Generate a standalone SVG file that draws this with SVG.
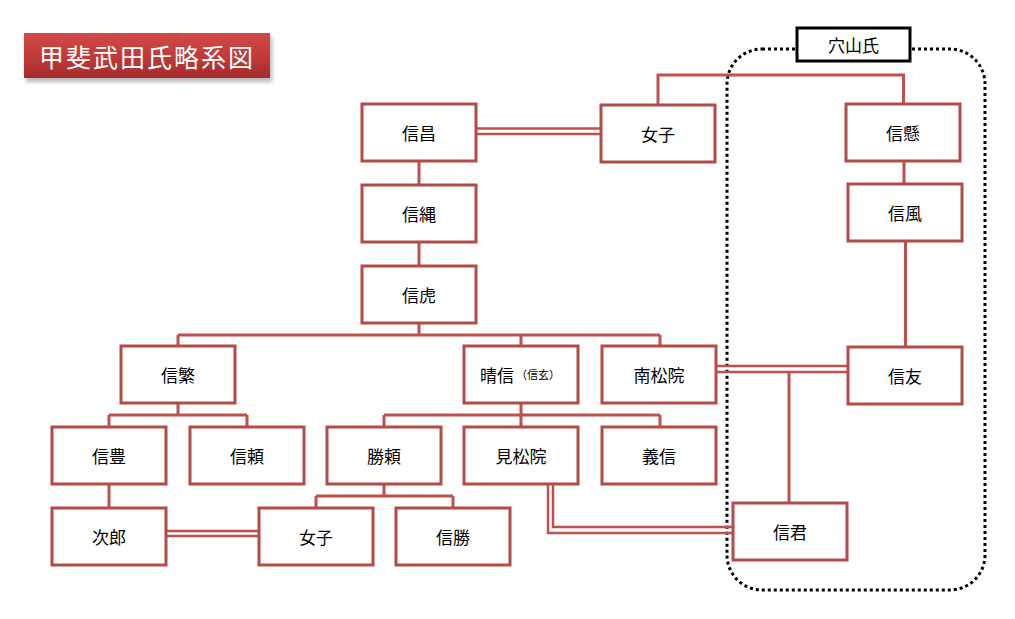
<svg xmlns="http://www.w3.org/2000/svg" width="1015" height="619" viewBox="0 0 1015 619">
<defs>
<linearGradient id="tg" x1="0" y1="0" x2="0" y2="1">
<stop offset="0" stop-color="#d24a47"/>
<stop offset="0.5" stop-color="#c23b39"/>
<stop offset="1" stop-color="#a32b2a"/>
</linearGradient>
<filter id="sh" x="-10%" y="-20%" width="120%" height="160%">
<feGaussianBlur stdDeviation="2"/>
</filter>
<style>
.box{fill:#fff;stroke:#b34b48;stroke-width:3}
.lbl{font-family:"Noto Sans CJK JP","Noto Sans CJK SC",sans-serif;font-size:17px;fill:#000;text-anchor:middle;dominant-baseline:central}
.ln{fill:none;stroke:#be504d;stroke-width:3}
.dl{fill:none;stroke:#be504d;stroke-width:2.5}
.dot{fill:none;stroke:#000;stroke-width:3;stroke-dasharray:3 3}
</style>
</defs>
<rect width="1015" height="619" fill="#fff"/>

<g id="title">
<rect x="26" y="37" width="246" height="45" fill="#888" opacity="0.6" filter="url(#sh)"/>
<rect x="24" y="33" width="246" height="45" fill="url(#tg)"/>
<text x="147" y="56" font-family="'Noto Sans CJK JP','Noto Sans CJK SC',sans-serif" font-size="25" fill="#fff" text-anchor="middle" dominant-baseline="central" letter-spacing="2">甲斐武田氏略系図</text>
</g>

<g id="anayama-boundary">
<rect x="727" y="49" width="258" height="541" rx="35" ry="35" class="dot"/>
</g>

<g id="connectors">
<path class="dl" d="M476 128.5H601M476 134H601"/>
<path class="ln" d="M658 105V75H903.5V104"/>
<path class="ln" d="M419 161V185M419 242V266"/>
<path class="ln" d="M419 323V335M178 335H660M178 335V346M521 335V346M660 335V346"/>
<path class="ln" d="M904 161V184"/>
<path class="ln" d="M905.5 241V347"/>
<path class="dl" d="M716 366H848M716 372H848"/>
<path class="ln" d="M789 372V503"/>
<path class="ln" d="M178 403V415M109 415H247M109 415V427M247 415V427"/>
<path class="ln" d="M521 403V415M384 415H660M384 415V427M521 415V427M660 415V427"/>
<path class="ln" d="M109 484V508"/>
<path class="ln" d="M384 484V496M316 496H453M316 496V508M453 496V508"/>
<path class="dl" d="M166 531H259M166 536H259"/>
<path class="dl" d="M548 484V533H733M553 484V527H733"/>
</g>

<g id="anayama-label">
<rect x="797" y="28" width="113" height="33" fill="#fff" stroke="#000" stroke-width="3"/>
<text x="853.5" y="44" class="lbl">穴山氏</text>
</g>

<g id="n-nobumasa"><rect class="box" x="362" y="104" width="114" height="57"/><text class="lbl" x="419" y="132">信昌</text></g>
<g id="n-joshi1"><rect class="box" x="601" y="105" width="114" height="57"/><text class="lbl" x="658" y="133">女子</text></g>
<g id="n-nobukake"><rect class="box" x="846" y="104" width="114" height="57"/><text class="lbl" x="903" y="132">信懸</text></g>
<g id="n-nobutsuna"><rect class="box" x="362" y="185" width="114" height="57"/><text class="lbl" x="419" y="213">信縄</text></g>
<g id="n-nobukaze"><rect class="box" x="848" y="184" width="114" height="57"/><text class="lbl" x="905" y="212">信風</text></g>
<g id="n-nobutora"><rect class="box" x="362" y="266" width="114" height="57"/><text class="lbl" x="419" y="294">信虎</text></g>
<g id="n-nobushige"><rect class="box" x="121" y="346" width="114" height="57"/><text class="lbl" x="178" y="374">信繁</text></g>
<g id="n-harunobu"><rect class="box" x="464" y="346" width="114" height="57"/><text class="lbl" x="480" y="374" style="text-anchor:start">晴信<tspan font-size="11" dx="2">（信玄）</tspan></text></g>
<g id="n-nanshoin"><rect class="box" x="602" y="346" width="114" height="57"/><text class="lbl" x="659" y="374">南松院</text></g>
<g id="n-nobutomo"><rect class="box" x="848" y="347" width="114" height="57"/><text class="lbl" x="905" y="375">信友</text></g>
<g id="n-nobutoyo"><rect class="box" x="52" y="427" width="114" height="57"/><text class="lbl" x="109" y="455">信豊</text></g>
<g id="n-nobuyori"><rect class="box" x="190" y="427" width="114" height="57"/><text class="lbl" x="247" y="455">信頼</text></g>
<g id="n-katsuyori"><rect class="box" x="327" y="427" width="114" height="57"/><text class="lbl" x="384" y="455">勝頼</text></g>
<g id="n-kenshoin"><rect class="box" x="464" y="427" width="114" height="57"/><text class="lbl" x="521" y="455">見松院</text></g>
<g id="n-yoshinobu"><rect class="box" x="602" y="427" width="114" height="57"/><text class="lbl" x="659" y="455">義信</text></g>
<g id="n-jiro"><rect class="box" x="52" y="508" width="114" height="57"/><text class="lbl" x="109" y="536">次郎</text></g>
<g id="n-joshi2"><rect class="box" x="259" y="508" width="114" height="57"/><text class="lbl" x="316" y="536">女子</text></g>
<g id="n-nobukatsu"><rect class="box" x="396" y="508" width="114" height="57"/><text class="lbl" x="453" y="536">信勝</text></g>
<g id="n-nobutada"><rect class="box" x="733" y="503" width="114" height="57"/><text class="lbl" x="790" y="531">信君</text></g>
</svg>
